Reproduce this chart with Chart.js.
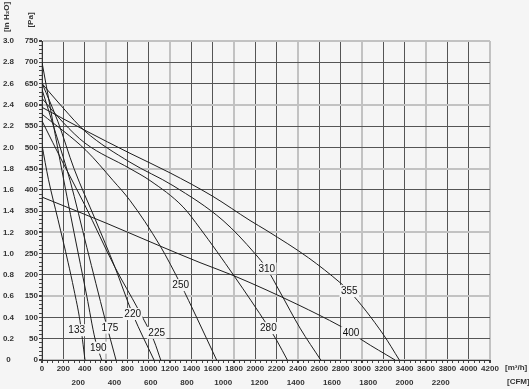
<!DOCTYPE html>
<html>
<head>
<meta charset="utf-8">
<script src="https://cdn.jsdelivr.net/npm/chart.js@4.4.0/dist/chart.umd.min.js"></script>
<style>
  html, body { margin: 0; padding: 0; background: #f5f5f5; }
</style>
</head>
<body>
<canvas id="fanChart" width="529" height="389"></canvas>
<script>
// fan curves: [airflow m3/h, static pressure Pa]
const fan133 = [[0, 505], [60, 425], [150, 330], [244, 230], [300, 165], [356, 92], [403, 0]];
const fan190 = [[0, 700], [169, 469], [300, 300], [420, 150], [497, 50], [559, 0]];
const fan175 = [[0, 636], [130, 532], [263, 422], [420, 265], [591, 96], [694, 0]];
const fan220 = [[0, 651], [150, 560], [300, 450], [500, 330], [684, 218], [850, 108], [1050, 0]];
const fan225 = [[0, 562], [200, 462], [400, 365], [684, 218], [900, 120], [1050, 45], [1113, 0]];
const fan250 = [[0, 578], [412, 493], [666, 422], [825, 375], [1106, 269], [1300, 178], [1450, 100], [1637, 0]];
const fan280 = [[0, 615], [200, 558], [403, 510], [825, 450], [1012, 422], [1322, 360], [1480, 310], [1800, 198], [2122, 78], [2203, 45], [2300, 0]];
const fan310 = [[0, 650], [200, 592], [403, 538], [825, 465], [1228, 410], [1697, 328], [1997, 250], [2107, 215], [2231, 160], [2419, 75], [2613, 0]];
const fan355 = [[0, 594], [403, 540], [825, 486], [1200, 440], [1600, 385], [1950, 328], [2109, 304], [2500, 240], [2794, 182], [2881, 162], [3197, 61], [3350, 0]];
const fan400 = [[0, 383], [600, 322], [1106, 268], [1481, 229], [1800, 198], [2400, 130], [2794, 80], [2897, 65], [3000, 47], [3310, 0]];

const fanNames = ['133', '190', '175', '220', '225', '250', '280', '310', '355', '400'];
const fanCurves = [fan133, fan190, fan175, fan220, fan225, fan250, fan280, fan310, fan355, fan400];
// where each size label sits on its curve [m3/h, Pa]
const labelSpots = [[325, 70], [528, 29], [637, 76], [850, 108], [1075, 64], [1300, 176], [2122, 75], [2107, 215], [2881, 162], [2897, 65]];

const M3H_PER_CFM = 1.699;
const PA_PER_INH2O = 250;

const BG = '#f5f5f5';
const tickFont = { family: '"Liberation Sans", Arial, sans-serif', size: 8, weight: 'bold' };

// background + curve labels + unit captions
const decorations = {
  id: 'decorations',
  beforeDraw(chart) {
    const ctx = chart.ctx;
    ctx.save();
    ctx.fillStyle = BG;
    ctx.fillRect(0, 0, chart.width, chart.height);
    ctx.restore();
  },
  afterDatasetsDraw(chart) {
    const ctx = chart.ctx;
    const xs = chart.scales.x, ys = chart.scales.y;
    ctx.save();
    ctx.font = '10px "Liberation Sans", Arial, sans-serif';
    ctx.textAlign = 'center';
    ctx.textBaseline = 'middle';
    fanNames.forEach((name, i) => {
      const px = xs.getPixelForValue(labelSpots[i][0]);
      const py = ys.getPixelForValue(labelSpots[i][1]);
      const w = ctx.measureText(name).width + 3;
      ctx.fillStyle = BG;
      ctx.fillRect(px - w / 2, py - 6, w, 12);
      ctx.fillStyle = '#111';
      ctx.fillText(name, px, py + 0.5);
    });
    ctx.restore();
  },
  afterDraw(chart) {
    const ctx = chart.ctx;
    ctx.save();
    ctx.fillStyle = '#333';
    ctx.font = 'bold 8px "Liberation Sans", Arial, sans-serif';
    ctx.textBaseline = 'middle';
    ctx.textAlign = 'left';
    ctx.fillText('[m³/h]', 505, 368);
    ctx.fillText('[CFM]', 507, 382);
    // rotated axis captions
    ctx.translate(7, 17);
    ctx.rotate(-Math.PI / 2);
    ctx.textAlign = 'center';
    ctx.fillText('[in H₂O]', 0, 0);
    ctx.rotate(Math.PI / 2);
    ctx.translate(24, 3);
    ctx.rotate(-Math.PI / 2);
    ctx.fillText('[Pa]', 0, 0);
    ctx.restore();
  }
};

const datasets = fanCurves.map((pts, i) => ({
  label: fanNames[i],
  data: pts.map(p => ({ x: p[0], y: p[1] })),
  borderColor: '#1e1e1e',
  borderWidth: 1,
  pointRadius: 0,
  fill: false,
  cubicInterpolationMode: 'monotone'
}));

new Chart(document.getElementById('fanChart').getContext('2d'), {
  type: 'line',
  data: { datasets },
  plugins: [decorations],
  options: {
    responsive: false,
    animation: false,
    layout: { padding: { top: 41, right: 39, left: 0, bottom: 0 } },
    plugins: { legend: { display: false }, tooltip: { enabled: false } },
    scales: {
      x: {
        type: 'linear',
        position: 'bottom',
        min: 0, max: 4200,
        afterFit: s => { s.height = 16; },
        border: { display: true, color: '#333', width: 1 },
        grid: {
          color: c => c.tick.value % 600 === 0 ? '#c2c2c2' : (c.tick.value % 200 === 0 ? '#555' : 'rgba(0,0,0,0)'),
          lineWidth: c => c.tick.value % 600 === 0 ? 2 : 1,
          tickColor: '#444',
          tickLength: 3
        },
        ticks: {
          stepSize: 50, autoSkip: false, maxRotation: 0, minRotation: 0,
          padding: 1, color: '#333', font: tickFont,
          callback: v => v % 200 === 0 ? String(v) : ''
        }
      },
      x2: {
        type: 'linear',
        position: 'bottom',
        min: 0, max: 4200 / M3H_PER_CFM,
        afterFit: s => { s.height = 13; },
        border: { display: false },
        grid: { display: false, drawTicks: false },
        ticks: {
          stepSize: 200, autoSkip: false, maxRotation: 0, minRotation: 0,
          padding: 2, color: '#333', font: tickFont,
          callback: v => (v > 0 && v % 200 === 0) ? String(v) : ''
        }
      },
      y: {
        type: 'linear',
        position: 'left',
        weight: 0,
        min: 0, max: 750,
        afterFit: s => { s.width = 28; },
        border: { display: true, color: '#333', width: 1 },
        grid: {
          color: c => c.tick.value % 150 === 0 ? '#c2c2c2' : (c.tick.value % 50 === 0 ? '#555' : 'rgba(0,0,0,0)'),
          lineWidth: c => c.tick.value % 150 === 0 ? 2 : 1,
          tickColor: '#444',
          tickLength: 3
        },
        ticks: {
          stepSize: 10, autoSkip: false,
          padding: 1, color: '#333', font: tickFont,
          callback: v => v % 50 === 0 ? String(v) : ''
        }
      },
      y2: {
        type: 'linear',
        position: 'left',
        weight: 1,
        min: 0, max: 750,
        afterFit: s => { s.width = 14; },
        border: { display: false },
        grid: { display: false, drawTicks: false },
        ticks: {
          stepSize: 50, autoSkip: false, crossAlign: 'center',
          padding: 0, color: '#333', font: tickFont,
          callback: v => v === 0 ? '0' : (v / PA_PER_INH2O).toFixed(1)
        }
      }
    }
  }
});
</script>
</body>
</html>
